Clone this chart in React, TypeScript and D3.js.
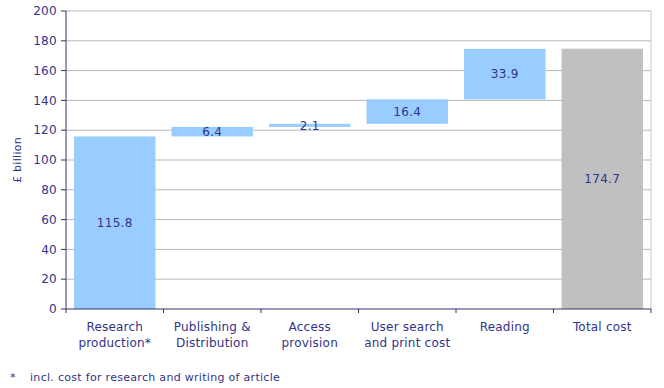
import React from "react";
import * as d3 from "d3";

const categories = ["Research\nproduction*", "Publishing &\nDistribution", "Access\nprovision", "User search\nand print cost", "Reading", "Total cost"];
const values = [115.8, 6.4, 2.1, 16.4, 33.9, 174.7];
const isTotal = [false, false, false, false, false, true];
const yTicks = [0, 20, 40, 60, 80, 100, 120, 140, 160, 180, 200];

const W = 664, H = 388;
const left = 66, right = 651, top = 11, bottom = 309;
const textColor = "#333388";
const font = "DejaVu Sans, Verdana, sans-serif";

export default function App() {
  const x = d3.scaleBand().domain(categories).range([left, right]).paddingInner(0.165).paddingOuter(0.0825);
  const band = d3.scaleBand().domain(categories).range([left, right]);
  const y = d3.scaleLinear().domain([0, 200]).range([bottom, top]);
  let cum = 0;
  const bars = categories.map((c, i) => {
    let lo: number, hi: number;
    if (isTotal[i]) { lo = 0; hi = values[i]; }
    else { lo = cum; hi = cum + values[i]; cum = hi; }
    return { c, lo, hi, v: values[i], total: isTotal[i] };
  });
  return (
    <svg width={W} height={H} style={{ position: "absolute", left: 0, top: 0 }} fontFamily={font}>
      <rect x={0} y={0} width={W} height={H} fill="#fff" />
      {yTicks.filter(t => t > 0).map(t => (
        <line key={t} x1={left} x2={right} y1={y(t)} y2={y(t)} stroke="#b8b8b8" strokeWidth={1} />
      ))}
      <line x1={right} x2={right} y1={top} y2={bottom} stroke="#c8c8c8" />
      {bars.map(b => (
        <rect key={b.c} x={x(b.c)!} width={x.bandwidth()} y={y(b.hi)} height={y(b.lo) - y(b.hi)} fill={b.total ? "#C0C0C0" : "#99CCFF"} />
      ))}
      {bars.map(b => (
        <text key={b.c} x={x(b.c)! + x.bandwidth() / 2} y={(y(b.hi) + y(b.lo)) / 2} dy="0.35em" textAnchor="middle" fontSize={12} letterSpacing={0.3} fill={textColor}>{b.v.toFixed(1)}</text>
      ))}
      <line x1={left} x2={left} y1={top} y2={bottom} stroke="#333366" />
      <line x1={left} x2={right} y1={bottom} y2={bottom} stroke="#333366" />
      {yTicks.map(t => (
        <g key={t}>
          <line x1={left - 5} x2={left} y1={y(t)} y2={y(t)} stroke="#333366" />
          <text x={left - 9} y={y(t)} dy="0.35em" textAnchor="end" fontSize={12} letterSpacing={0.3} fill={textColor}>{t}</text>
        </g>
      ))}
      {categories.map((c, i) => (
        <line key={c} x1={band(c)!} x2={band(c)!} y1={bottom} y2={bottom + 4} stroke="#333366" />
      ))}
      <line x1={right} x2={right} y1={bottom} y2={bottom + 4} stroke="#333366" />
      {categories.map(c => (
        <text key={c} x={band(c)! + band.bandwidth() / 2} y={331} textAnchor="middle" fontSize={12} letterSpacing={0.2} fill={textColor}>
          {c.split("\n").map((line, j) => (
            <tspan key={j} x={band(c)! + band.bandwidth() / 2} dy={j === 0 ? 0 : 16}>{line}</tspan>
          ))}
        </text>
      ))}
      <text transform={`translate(21,160) rotate(-90)`} textAnchor="middle" fontSize={11} letterSpacing={0.3} fill={textColor}>£ billion</text>
      <text x={10} y={381} fontSize={11} fill={textColor}>*</text>
      <text x={30} y={381} fontSize={11} letterSpacing={0.3} fill={textColor}>incl. cost for research and writing of article</text>
    </svg>
  );
}
